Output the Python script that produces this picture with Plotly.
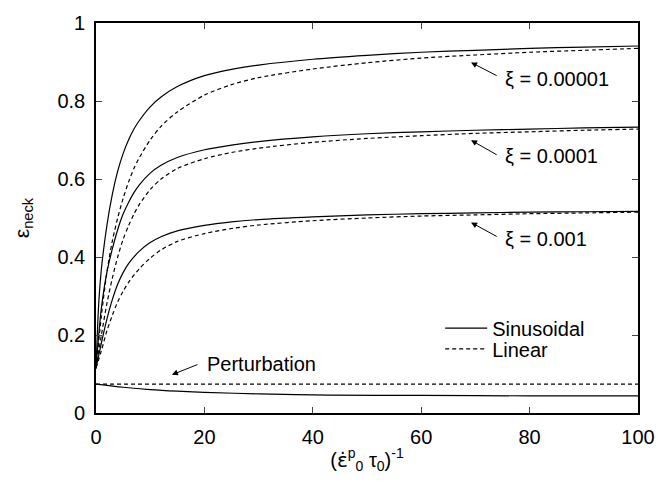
import plotly.graph_objects as go

# ---- data ----
x_s1 = [0, 0.5, 1, 2, 3, 4, 5, 6, 7, 8, 10, 12, 15, 20, 25, 30, 40, 50, 60, 70, 80, 90, 100]
y_s1 = [0.115, 0.28, 0.37, 0.48, 0.56, 0.62, 0.665, 0.70, 0.728, 0.75, 0.785, 0.81, 0.837, 0.865, 0.881, 0.892, 0.907, 0.917, 0.925, 0.93, 0.935, 0.938, 0.941]
x_l1 = [0, 1, 2, 3, 4, 5, 6, 7, 8, 10, 12, 15, 20, 25, 30, 40, 50, 60, 70, 80, 90, 100]
y_l1 = [0.115, 0.25, 0.36, 0.44, 0.50, 0.55, 0.592, 0.627, 0.655, 0.70, 0.735, 0.772, 0.815, 0.842, 0.86, 0.882, 0.898, 0.91, 0.918, 0.925, 0.93, 0.935]

x_s2 = [0, 0.5, 1, 2, 3, 4, 5, 6, 7, 8, 10, 12, 15, 20, 25, 30, 40, 50, 60, 70, 80, 90, 100]
y_s2 = [0.115, 0.2, 0.27, 0.36, 0.42, 0.47, 0.51, 0.54, 0.565, 0.585, 0.615, 0.635, 0.655, 0.675, 0.687, 0.696, 0.708, 0.716, 0.721, 0.725, 0.728, 0.731, 0.733]
x_l2 = [0, 1, 2, 3, 4, 5, 6, 7, 8, 10, 12, 15, 20, 25, 30, 40, 50, 60, 70, 80, 90, 100]
y_l2 = [0.115, 0.2, 0.28, 0.345, 0.40, 0.445, 0.48, 0.51, 0.535, 0.573, 0.60, 0.627, 0.652, 0.668, 0.679, 0.694, 0.704, 0.711, 0.717, 0.721, 0.725, 0.728]

x_s3 = [0, 1, 2, 3, 4, 5, 6, 8, 10, 12, 15, 20, 25, 30, 40, 50, 60, 70, 80, 90, 100]
y_s3 = [0.115, 0.18, 0.24, 0.29, 0.33, 0.36, 0.383, 0.415, 0.437, 0.452, 0.467, 0.481, 0.49, 0.496, 0.503, 0.508, 0.511, 0.513, 0.515, 0.516, 0.517]
x_l3 = [0, 1, 2, 3, 4, 5, 6, 8, 10, 12, 15, 20, 25, 30, 40, 50, 60, 70, 80, 90, 100]
y_l3 = [0.115, 0.16, 0.21, 0.25, 0.285, 0.312, 0.335, 0.37, 0.397, 0.418, 0.44, 0.46, 0.473, 0.482, 0.493, 0.50, 0.505, 0.508, 0.511, 0.513, 0.515]

x_ps = [0, 5, 10, 15, 20, 30, 43, 60, 80, 100]
y_ps = [0.074, 0.066, 0.06, 0.056, 0.053, 0.049, 0.046, 0.045, 0.044, 0.044]
x_pl = [0, 100]
y_pl = [0.074, 0.074]

x_ticks = [0, 20, 40, 60, 80, 100]
y_ticks = [0, 0.2, 0.4, 0.6, 0.8, 1]
y_tick_labels = ["0", "0.2", "0.4", "0.6", "0.8", "1"]

xi_labels = ["ξ = 0.00001", "ξ = 0.0001", "ξ = 0.001"]
xi_tip = [(69.2, 0.899), (69.2, 0.6995), (69.2, 0.4886)]
xi_tail = [(74.2, 0.863), (74.2, 0.66), (74.2, 0.4506)]
xi_text = [(75.1, 0.856), (75.1, 0.658), (75.1, 0.446)]

pert_tip = (14.0, 0.098)
pert_tail = (19.0, 0.1257)
pert_text = (20.2, 0.1266)

FONT = "Liberation Sans, Arial, sans-serif"
FS = 20
DASH = "4px,3px"
LW = 1.2

fig = go.Figure()

def add(x, y, dashed, name=None, show=False, legend="legend"):
    fig.add_trace(go.Scatter(
        x=x, y=y, mode="lines",
        line=dict(color="black", width=LW, dash=DASH if dashed else "solid", shape="spline", smoothing=0.8),
        name=name, showlegend=show, legend=legend, hoverinfo="skip"))

add(x_s1, y_s1, False, "Sinusoidal", True, "legend")
add(x_l1, y_l1, True, "Linear", True, "legend2")
add(x_s2, y_s2, False)
add(x_l2, y_l2, True)
add(x_s3, y_s3, False)
add(x_l3, y_l3, True)
add(x_ps, y_ps, False)
add(x_pl, y_pl, True)

annos = []
for lab, tip, tail, txt in zip(xi_labels, xi_tip, xi_tail, xi_text):
    annos.append(dict(x=tip[0], y=tip[1], ax=tail[0], ay=tail[1], xref="x", yref="y",
                      axref="x", ayref="y", text="", showarrow=True,
                      arrowhead=2, arrowsize=1.2, arrowwidth=1, arrowcolor="black"))
    annos.append(dict(x=txt[0], y=txt[1], xref="x", yref="y", text=lab, showarrow=False,
                      xanchor="left", yanchor="middle", font=dict(size=FS, color="black", family=FONT)))
annos.append(dict(x=pert_tip[0], y=pert_tip[1], ax=pert_tail[0], ay=pert_tail[1], xref="x", yref="y",
                  axref="x", ayref="y", text="", showarrow=True,
                  arrowhead=2, arrowsize=1.2, arrowwidth=1, arrowcolor="black"))
annos.append(dict(x=pert_text[0], y=pert_text[1], xref="x", yref="y", text="Perturbation", showarrow=False,
                  xanchor="left", yanchor="middle", font=dict(size=FS, color="black", family=FONT)))

leg_common = dict(xanchor="left", yanchor="middle", bgcolor="rgba(0,0,0,0)",
                  font=dict(size=FS, family=FONT, color="black"), itemwidth=42)

fig.update_layout(
    width=667, height=484,
    margin=dict(l=96, r=24, t=18, b=71),
    paper_bgcolor="white", plot_bgcolor="white",
    font=dict(family=FONT, size=FS, color="black"),
    annotations=annos,
    legend=dict(x=0.635, y=0.2177, **leg_common),
    legend2=dict(x=0.635, y=0.1646, **leg_common),
)
fig.update_xaxes(range=[0, 100], tickvals=x_ticks, ticks="inside", ticklen=6, tickwidth=1,
                 showline=True, linewidth=1.6, linecolor="black", mirror="ticks",
                 showgrid=False, zeroline=False, ticklabelstandoff=5,
                 title=dict(text="(<span style=\"font-family:DejaVu Sans\">ε̇</span><sup>p</sup><sub>0</sub> τ<sub>0</sub>)<sup>-1</sup>",
                            standoff=6, font=dict(size=FS, family=FONT)))
fig.update_yaxes(range=[0, 1], tickvals=y_ticks, ticktext=y_tick_labels, ticks="inside", ticklen=6, tickwidth=1,
                 showline=True, linewidth=1.6, linecolor="black", mirror="ticks",
                 showgrid=False, zeroline=False, ticklabelstandoff=5,
                 title=dict(text="ε<sub>neck</sub>", standoff=22, font=dict(size=21, family=FONT)))

fig.write_html("out.html")
